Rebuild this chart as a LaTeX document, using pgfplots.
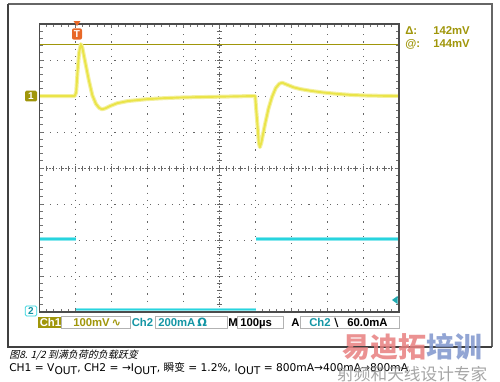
\documentclass[border=0pt]{standalone}
\usepackage{fontspec}
\setmainfont{DejaVu Sans}
\newfontfamily\cjk{Noto Sans CJK SC}
\newfontfamily\cjkit{Noto Sans CJK SC}[FakeSlant=0.25]
\newfontfamily\scopefont{Liberation Sans}
\newfontfamily\djv{DejaVu Sans}
\usepackage{pgfplots}
\pgfplotsset{compat=1.18}
\usepackage{pgfplotstable}
\definecolor{scOlive}{RGB}{160,150,10}
\definecolor{trYellow}{RGB}{234,228,72}
\definecolor{trYellowL}{RGB}{244,240,160}
\definecolor{trCyan}{RGB}{40,212,222}
\definecolor{trCyanL}{RGB}{140,232,238}
\definecolor{txCyan}{RGB}{20,150,165}
\definecolor{tOrange}{RGB}{232,104,40}
\definecolor{wmRed}{RGB}{232,128,128}
\definecolor{wmBlue}{RGB}{128,150,205}
\definecolor{wmGray}{RGB}{150,150,150}

% Ch1 (divisions) vs time (microseconds)
\pgfplotstableread{
t v
0 2.0
98 2.0
102 2.1
106 2.7
110 3.2
115 3.44
119 3.35
127 2.95
137 2.45
147 2.02
157 1.78
166 1.67
174 1.63
184 1.66
196 1.72
216 1.80
246 1.86
296 1.91
346 1.94
396 1.96
446 1.97
496 1.98
546 1.99
600 2.0
603 1.6
607 1.1
610 0.7
613 0.58
617 0.7
627 1.2
637 1.65
647 1.98
657 2.22
667 2.34
675 2.37
687 2.32
707 2.24
727 2.19
757 2.14
787 2.10
827 2.06
867 2.03
917 2.01
1000 2.0
}\chone

\pgfplotstableread{
t v
0 -1.98
101 -1.98
}\chtwoa
\pgfplotstableread{
t v
101 -3.93
602 -3.93
}\chtwob
\pgfplotstableread{
t v
602 -1.98
1000 -1.98
}\chtwoc

\begin{document}
\begin{tikzpicture}
\begin{scope}[x=0.75pt,y=-0.75pt]
\useasboundingbox (0,0) rectangle (500,382);
\fill[white] (0,0) rectangle (500,382);
% outer frame
\draw[black!60, line width=1.1pt] (8,4) -- (492,4) -- (492,347);
\draw[black!75, line width=1.1pt] (8,4) -- (8,347) -- (492,347);
% dotted graticule
\foreach \i in {1,2,3,4,6,7,8,9} {
  \pgfmathsetmacro\xx{39.5+35.95*\i}
  \draw[black!60, line width=0.7pt, dash pattern=on 0.8pt off 4.6pt, dash phase=-2.3pt] (\xx,24) -- (\xx,312);
}
\foreach \j in {1,2,3,5,6,7} {
  \pgfmathsetmacro\yy{24+36*\j}
  \draw[black!60, line width=0.7pt, dash pattern=on 0.8pt off 4.59pt, dash phase=-2.3pt] (39.5,\yy) -- (399,\yy);
}
% centre cross
\draw[black!60, line width=0.6pt, dash pattern=on 1.2pt off 1.2pt] (39.5,168) -- (399,168);
\draw[black!60, line width=0.6pt, dash pattern=on 1.2pt off 1.2pt] (219.25,24) -- (219.25,312);
\foreach \k in {1,...,49} {
  \pgfmathsetmacro\xx{39.5+7.19*\k}
  \draw[black!60, line width=0.6pt] (\xx,165.5) -- (\xx,170.5);
  \draw[black!55, line width=0.6pt] (\xx,24) -- (\xx,27);
  \draw[black!55, line width=0.6pt] (\xx,312) -- (\xx,309);
}
\foreach \k in {1,...,39} {
  \pgfmathsetmacro\yy{24+7.2*\k}
  \draw[black!60, line width=0.6pt] (216.75,\yy) -- (221.75,\yy);
  \draw[black!55, line width=0.6pt] (39.5,\yy) -- (42.5,\yy);
  \draw[black!55, line width=0.6pt] (399,\yy) -- (396,\yy);
}
\end{scope}

\begin{axis}[at={(29.625pt,-234pt)}, anchor=south west, scale only axis,
  width=269.625pt, height=216pt, xmin=0, xmax=1000, ymin=-4, ymax=4,
  axis lines=none, clip=true]
% cursor line
\draw[scOlive, line width=0.75pt] (axis cs:0,3.44) -- (axis cs:1000,3.44);
\addplot[trYellowL, line width=3.0pt, line join=round] table {\chone};
\addplot[trYellow, line width=1.4pt, line join=round] table {\chone};
\addplot[trCyanL, line width=3.0pt] table {\chtwoa};
\addplot[trCyan, line width=1.6pt] table {\chtwoa};
\addplot[trCyanL, line width=2.6pt] table {\chtwob};
\addplot[trCyan, line width=1.4pt] table {\chtwob};
\addplot[trCyanL, line width=3.0pt] table {\chtwoc};
\addplot[trCyan, line width=1.6pt] table {\chtwoc};
\end{axis}

\begin{scope}[x=0.75pt,y=-0.75pt]
% graticule border
\draw[black!70, line width=1.1pt] (39.5,24) rectangle (399,312);
% channel markers
\node[fill=scOlive, text=white, inner sep=0pt, minimum width=9pt, minimum height=8pt, rounded corners=1pt, font=\scopefont\bfseries\fontsize{7.5}{7.5}\selectfont] at (31,96) {1};
\node[fill=white, draw=trCyan, line width=0.6pt, text=txCyan, inner sep=0pt, minimum width=8.5pt, minimum height=7.5pt, rounded corners=1pt, font=\scopefont\bfseries\fontsize{7.5}{7.5}\selectfont] at (31,311) {2};
\fill[tOrange] (73.5,21) -- (80.5,21) -- (77,26) -- cycle;
\node[fill=tOrange, text=white, inner sep=0pt, minimum width=7.5pt, minimum height=8.5pt, rounded corners=1.5pt, font=\scopefont\bfseries\fontsize{7.5}{7.5}\selectfont] at (77,34) {T};
\fill[trCyan!80!black] (397.5,296) -- (397.5,304) -- (392,300) -- cycle;
% cursor readout
\node[anchor=base west, text=scOlive, inner sep=0pt, font=\scopefont\bfseries\fontsize{8.5}{8.5}\selectfont] at (405,35) {Δ:};
\node[anchor=base west, text=scOlive, inner sep=0pt, font=\scopefont\bfseries\fontsize{8.5}{8.5}\selectfont] at (405,47) {@:};
\node[anchor=base west, text=scOlive, inner sep=0pt, font=\scopefont\bfseries\fontsize{8.5}{8.5}\selectfont] at (433,35) {142mV};
\node[anchor=base west, text=scOlive, inner sep=0pt, font=\scopefont\bfseries\fontsize{8.5}{8.5}\selectfont] at (433,47) {144mV};
% status bar
\fill[scOlive] (38,316.5) rectangle (61,328);
\node[anchor=base west, text=white, inner sep=0pt, font=\scopefont\bfseries\fontsize{8.5}{8.5}\selectfont] at (39.5,326) {Ch1};
\draw[black!30, line width=0.6pt] (61,316.5) rectangle (130,328.5);
\node[anchor=base west, text=scOlive, inner sep=0pt, font=\scopefont\bfseries\fontsize{8.5}{8.5}\selectfont] at (73,326) {100mV\,{\djv∿}};
\node[anchor=base west, text=txCyan, inner sep=0pt, font=\scopefont\bfseries\fontsize{8.5}{8.5}\selectfont] at (131.5,326) {Ch2};
\draw[black!30, line width=0.6pt] (155,316.5) rectangle (227,328.5);
\node[anchor=base west, text=txCyan, inner sep=0pt, font=\scopefont\bfseries\fontsize{8.5}{8.5}\selectfont] at (158,326) {200mA\,{\djv Ω}};
\node[anchor=base west, text=black, inner sep=0pt, font=\scopefont\bfseries\fontsize{8.5}{8.5}\selectfont] at (228,326) {M};
\draw[black!30, line width=0.6pt] (237,316.5) rectangle (283,328.5);
\node[anchor=base west, text=black, inner sep=0pt, font=\scopefont\bfseries\fontsize{8.5}{8.5}\selectfont] at (240,326) {100µs};
\node[anchor=base west, text=black, inner sep=0pt, font=\scopefont\bfseries\fontsize{8.5}{8.5}\selectfont] at (291,326) {A};
\draw[black!30, line width=0.6pt] (300,316.5) rectangle (399,328.5);
\node[anchor=base west, text=txCyan, inner sep=0pt, font=\scopefont\bfseries\fontsize{8.5}{8.5}\selectfont] at (309,326) {Ch2};
\node[anchor=base west, text=black, inner sep=0pt, font=\djv\bfseries\fontsize{8.5}{8.5}\selectfont] at (334,326) {\textbackslash};
\node[anchor=base west, text=black, inner sep=0pt, font=\scopefont\bfseries\fontsize{8.5}{8.5}\selectfont] at (347,326) {60.0mA};
% caption
\node[anchor=base west, inner sep=0pt, font=\cjkit\fontsize{7.5}{7.5}\selectfont] at (9,358) {图8. 1/2 到满负荷的负载跃变};
\node[anchor=base west, inner sep=0pt, font=\djv\fontsize{8}{8}\selectfont] at (9,371) {CH1 = V\raisebox{-2.8pt}{OUT}, CH2 = →I\raisebox{-2.8pt}{OUT}, {\cjk 瞬变} = 1.2\%, I\raisebox{-2.8pt}{OUT} = 800mA→400mA→800mA};
% watermark
\node[anchor=base west, inner sep=0pt, opacity=0.85, font=\cjk\bfseries\fontsize{21}{21}\selectfont] at (342,357) {\textcolor{wmRed}{易迪拓}\textcolor{wmBlue}{培训}};
\node[anchor=base west, inner sep=0pt, opacity=0.85, text=wmGray, font=\cjk\fontsize{12.5}{12.5}\selectfont] at (337,380) {射频和天线设计专家};
\end{scope}
\end{tikzpicture}
\end{document}
